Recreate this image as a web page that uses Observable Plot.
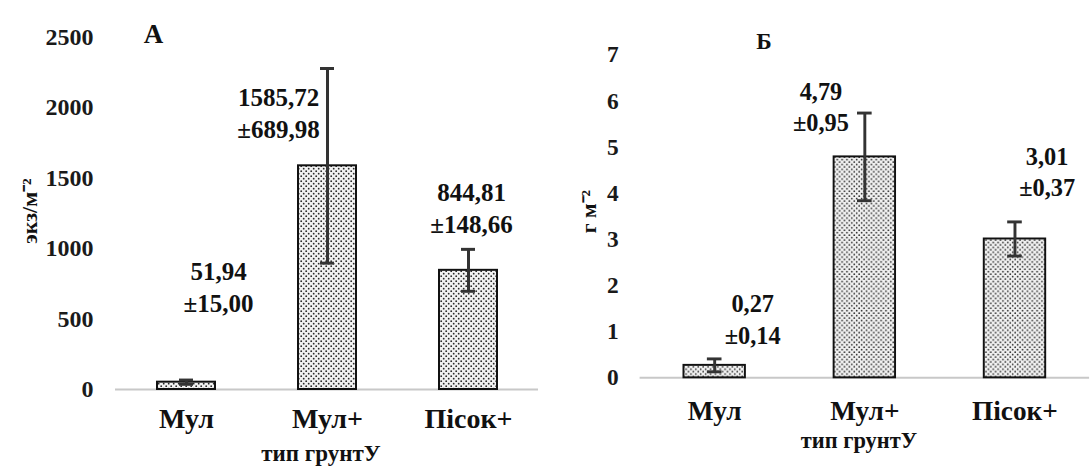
<!DOCTYPE html>
<html>
<head>
<meta charset="utf-8">
<script src="https://cdn.jsdelivr.net/npm/d3@7"></script>
<script src="https://cdn.jsdelivr.net/npm/@observablehq/plot@0.6"></script>
<style>
  html, body { margin: 0; padding: 0; background: #fff; }
  body { width: 1092px; height: 473px; overflow: hidden; position: relative; }
  .panel { position: absolute; top: 0; }
  .panel svg, .panel svg text { font-family: "Liberation Serif", "Times New Roman", serif !important; font-weight: bold; }
</style>
</head>
<body>
<div id="left" class="panel" style="left:0px"></div>
<div id="right" class="panel" style="left:546px"></div>
<script>
// ---- data ----
const categories = ["Мул", "Мул+", "Пісок+"];
const densityMean = [51.94, 1585.72, 844.81];
const densityErr = [15.00, 689.98, 148.66];
const biomassMean = [0.27, 4.79, 3.01];
const biomassErr = [0.14, 0.95, 0.37];
const densityTicks = [0, 500, 1000, 1500, 2000, 2500];
const biomassTicks = [0, 1, 2, 3, 4, 5, 6, 7];
const xTitle = "тип грунтУ";

// ---- layout ----
const fmt = v => v.toFixed(2).replace(".", ",");
const FONT = '"Liberation Serif", "Times New Roman", serif';

function addPattern(svg, id) {
  const ns = "http://www.w3.org/2000/svg";
  const defs = document.createElementNS(ns, "defs");
  const p = document.createElementNS(ns, "pattern");
  p.setAttribute("id", id);
  p.setAttribute("patternUnits", "userSpaceOnUse");
  p.setAttribute("width", "5");
  p.setAttribute("height", "5");
  const r = document.createElementNS(ns, "rect");
  r.setAttribute("width", "5"); r.setAttribute("height", "5"); r.setAttribute("fill", "#f2f2f2");
  p.appendChild(r);
  for (const [cx, cy] of [[1.2, 1.2], [3.7, 3.7]]) {
    const c = document.createElementNS(ns, "circle");
    c.setAttribute("cx", cx); c.setAttribute("cy", cy); c.setAttribute("r", "0.9");
    c.setAttribute("fill", "#2a2a2a");
    p.appendChild(c);
  }
  defs.appendChild(p);
  svg.insertBefore(defs, svg.firstChild);
}

function panel(o) {
  const data = categories.map((cat, i) => ({cat, mean: o.mean[i], err: o.err[i]}));
  const marks = [
    Plot.ruleY([0], {stroke: "#c8c8c8", strokeWidth: 2}),
    Plot.axisY({ticks: o.ticks, tickSize: 0, tickPadding: 22, tickFormat: d => String(d),
      fontSize: 24, color: "#1a1a1a", stroke: "#c8c8c8", strokeWidth: 2, line: true, label: null}),
    Plot.axisX({tickSize: 0, tickPadding: o.xTickPadding, fontSize: 28, color: "#111", label: null}),
    Plot.barY(data, {x: "cat", y: "mean", fill: `url(#${o.patternId})`, stroke: "#111", strokeWidth: 2}),
    Plot.ruleX(data, {x: "cat", y1: d => d.mean - d.err, y2: d => d.mean + d.err, stroke: "#333", strokeWidth: 3}),
    Plot.tickY(data, {x: "cat", y: d => d.mean + d.err, stroke: "#333", strokeWidth: 3, insetLeft: o.capInset, insetRight: o.capInset}),
    Plot.tickY(data, {x: "cat", y: d => d.mean - d.err, stroke: "#333", strokeWidth: 3, insetLeft: o.capInset, insetRight: o.capInset}),
    ...data.map((d, i) => Plot.text([d], {
      x: "cat", y: d => d.mean + d.err,
      text: d => fmt(d.mean) + "\n±" + fmt(d.err),
      dx: o.nudges[i][0], dy: o.nudges[i][1],
      lineAnchor: "middle", lineHeight: 1.29, fontSize: 25, fill: "#111"
    })),
    Plot.text([o.title], {frameAnchor: "top-left", dx: o.titleDx, dy: o.titleDy, textAnchor: "middle",
      lineAnchor: "middle", fontSize: o.titleSize, fill: "#111"}),
    Plot.text([o.yLabel], {frameAnchor: "left", dx: o.yLabelDx, dy: o.yLabelDy, rotate: -90,
      textAnchor: "middle", lineAnchor: "middle", fontSize: 22, fill: "#111"}),
    Plot.text([xTitle], {frameAnchor: "bottom", dx: o.xTitleDx, dy: o.xTitleDy, textAnchor: "middle",
      lineAnchor: "middle", fontSize: 23, fill: "#111"})
  ];
  const svg = Plot.plot({
    width: o.width, height: 473,
    marginLeft: o.marginLeft, marginRight: o.marginRight, marginTop: 18, marginBottom: o.marginBottom,
    x: {domain: categories, paddingInner: 0.59, paddingOuter: 0.29, axis: null},
    y: {domain: [0, o.yMax], axis: null},
    style: {fontFamily: FONT, fontWeight: "bold", background: "transparent", color: "#111", overflow: "visible"},
    marks
  });
  addPattern(svg, o.patternId);
  return svg;
}

document.getElementById("left").appendChild(panel({
  mean: densityMean, err: densityErr, ticks: densityTicks, yMax: 2630,
  width: 546, marginLeft: 115, marginRight: 8, marginBottom: 84,
  xTickPadding: 19, capInset: 22, patternId: "dotsA",
  nudges: [[32, -94], [-49, 43], [3, -43]],
  title: "А", titleDx: 38, titleDy: 16, titleSize: 27,
  yLabel: "экз/м⁻²", yLabelDx: -86, yLabelDy: 7,
  xTitleDx: -6, xTitleDy: 64
}));

document.getElementById("right").appendChild(panel({
  mean: biomassMean, err: biomassErr, ticks: biomassTicks, yMax: 7.8,
  width: 560, marginLeft: 96, marginRight: 3, marginBottom: 86,
  xTickPadding: 23, capInset: 24, patternId: "dotsB",
  nudges: [[39, -42], [-45, -8], [33, -53]],
  title: "Б", titleDx: 127, titleDy: 24, titleSize: 24,
  yLabel: "г м⁻²", yLabelDx: -52, yLabelDy: 14,
  xTitleDx: -6, xTitleDy: 65
}));
</script>
</body>
</html>
